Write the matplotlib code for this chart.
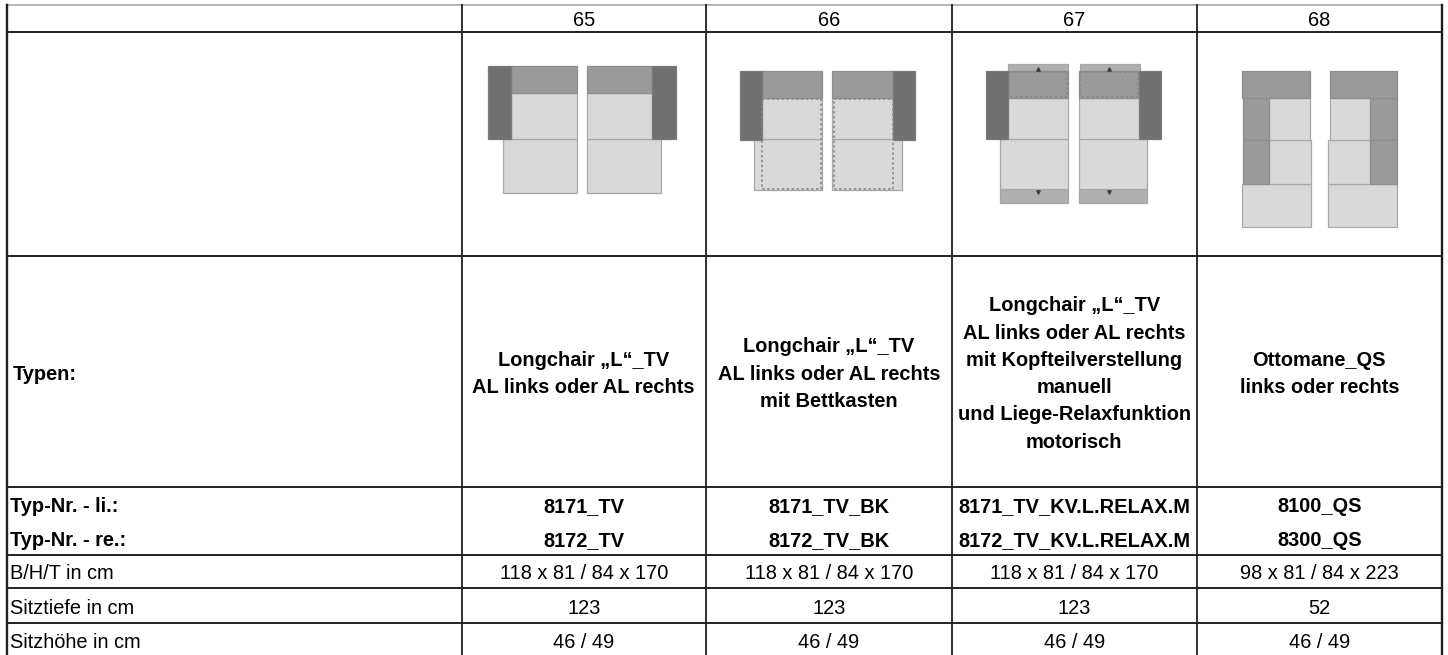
"""
Sofa type table: Longchair / Ottomane variants 65-68
Generates: out.png
"""
import matplotlib
matplotlib.use('Agg')
import matplotlib.pyplot as plt
from matplotlib.patches import Rectangle

plt.rcParams['font.family'] = ['Liberation Sans', 'DejaVu Sans']

# === table content ===
col_numbers = ['65', '66', '67', '68']
row_types = 'Typen:'
type_names = [
    'Longchair „L“_TV\nAL links oder AL rechts',
    'Longchair „L“_TV\nAL links oder AL rechts\nmit Bettkasten',
    'Longchair „L“_TV\nAL links oder AL rechts\nmit Kopfteilverstellung\nmanuell\nund Liege-Relaxfunktion\nmotorisch',
    'Ottomane_QS\nlinks oder rechts',
]
typ_li = ['8171_TV', '8171_TV_BK', '8171_TV_KV.L.RELAX.M', '8100_QS']
typ_re = ['8172_TV', '8172_TV_BK', '8172_TV_KV.L.RELAX.M', '8300_QS']
dims = ['118 x 81 / 84 x 170', '118 x 81 / 84 x 170', '118 x 81 / 84 x 170', '98 x 81 / 84 x 223']
sitztiefe = ['123', '123', '123', '52']
sitzhoehe = ['46 / 49', '46 / 49', '46 / 49', '46 / 49']

# grid in pixels
col_x = [6.5, 461.5, 706, 951.5, 1197, 1441.5]
row_y = [5, 32.3, 255.7, 486.8, 555, 588.3, 623.3, 655]

ARM = '#707070'
BACK = '#9a9a9a'
SEAT = '#d9d9d9'
FLAP = '#b0b0b0'
EDGES = {ARM: '#7a7a7a', BACK: '#8e8e8e', SEAT: '#a8a8a8', FLAP: '#a6a6a6'}

fig = plt.figure(figsize=(14.48, 6.55), dpi=100)
ax = fig.add_axes([0, 0, 1, 1])
ax.set_xlim(0, 1448)
ax.set_ylim(655, 0)
ax.axis('off')


def box(x0, x1, y0, y1, color):
    ax.add_patch(Rectangle((x0, y0), x1 - x0, y1 - y0, fc=color, ec=EDGES[color], lw=0.9, zorder=2))


def dotted(x0, x1, y0, y1):
    ax.add_patch(Rectangle((x0, y0), x1 - x0, y1 - y0, fc='none', ec='#858585',
                           ls=(0, (1.6, 1.6)), lw=1.1, zorder=3))


# === 65 ===
box(502.7, 576.7, 138.7, 192.7, SEAT)
box(511, 576.7, 93.3, 138.7, SEAT)
box(511, 576.7, 66, 93.3, BACK)
box(488.3, 511, 66, 139.3, ARM)
box(586.7, 661, 138.7, 192.7, SEAT)
box(586.7, 652.3, 93.3, 138.7, SEAT)
box(586.7, 652.3, 66, 93.3, BACK)
box(652.3, 675.7, 66, 139.3, ARM)

# === 66 ===
box(754, 822.3, 139.3, 190, SEAT)
box(761.7, 822.3, 98.3, 139.3, SEAT)
box(761.7, 822.3, 71.3, 98.3, BACK)
box(740, 761.7, 71.3, 140, ARM)
dotted(762, 821, 99, 189)
box(832.3, 901.7, 139.3, 190, SEAT)
box(832.3, 893.3, 98.3, 139.3, SEAT)
box(832.3, 893.3, 71.3, 98.3, BACK)
box(893.3, 915.3, 71.3, 140, ARM)
dotted(834, 893, 99, 189)

# === 67 ===
box(1007.7, 1067.7, 64, 71.3, FLAP)
box(1000, 1067.7, 189.3, 203.3, FLAP)
box(1000, 1067.7, 139.3, 189.3, SEAT)
box(1007.7, 1067.7, 97.7, 139.3, SEAT)
box(1007.7, 1067.7, 71.3, 97.7, BACK)
box(986, 1007.7, 71.3, 139.3, ARM)
dotted(1009, 1067, 72, 97)
box(1080, 1140, 64, 71.3, FLAP)
box(1079, 1146.7, 189.3, 203.3, FLAP)
box(1079, 1146.7, 139.3, 189.3, SEAT)
box(1079, 1139, 97.7, 139.3, SEAT)
box(1079, 1139, 71.3, 97.7, BACK)
box(1139, 1160.7, 71.3, 139.3, ARM)
dotted(1080, 1138, 72, 97)
for x in [1037.5, 1109]:
    ax.plot(x, 69, marker='^', ms=2.5, color='#404040', zorder=4)
    ax.plot(x, 192, marker='v', ms=2.5, color='#404040', zorder=4)

# === 68 ===
box(1241.7, 1311, 184.3, 226.7, SEAT)
box(1269, 1311, 140, 184.3, SEAT)
box(1269, 1309.5, 97.7, 140, SEAT)
box(1242.7, 1269, 97.7, 140, BACK)
box(1242.7, 1269, 140, 184.3, BACK)
box(1241.7, 1310, 71.3, 97.7, BACK)
box(1327.7, 1397.3, 184.3, 226.7, SEAT)
box(1327.7, 1370, 140, 184.3, SEAT)
box(1330, 1370, 97.7, 140, SEAT)
box(1370, 1396.7, 97.7, 140, BACK)
box(1370, 1396.7, 140, 184.3, BACK)
box(1330, 1396.7, 71.3, 97.7, BACK)

# === grid lines ===
ax.plot([col_x[0], col_x[-1]], [row_y[0]] * 2, color='#b4b4b4', lw=1.4, zorder=5)
for y in row_y[1:-1]:
    ax.plot([col_x[0], col_x[-1]], [y, y], color='#101010', lw=1.3, zorder=5)
for i, x in enumerate(col_x):
    lw = 1.7 if i in (0, 5) else 1.3
    ax.plot([x, x], [row_y[0], row_y[-1]], color='#202020', lw=lw, zorder=5)

# === text ===
FS = 14.4
centers = [(col_x[i] + col_x[i + 1]) / 2 for i in range(1, 5)]
ty = {'head': 20.5, 'types': 374, 'li': 507, 're': 540.3, 'dims': 573.5, 'tiefe': 608, 'hoehe': 642.5}

ax.text(13, ty['types'], row_types, fontsize=FS, fontweight='bold', va='center')
ax.text(10, ty['li'], 'Typ-Nr. - li.:', fontsize=FS, fontweight='bold', va='center')
ax.text(10, ty['re'], 'Typ-Nr. - re.:', fontsize=FS, fontweight='bold', va='center')
ax.text(10, ty['dims'], 'B/H/T in cm', fontsize=FS, va='center')
ax.text(10, ty['tiefe'], 'Sitztiefe in cm', fontsize=FS, va='center')
ax.text(10, ty['hoehe'], 'Sitzhöhe in cm', fontsize=FS, va='center')

for i, cx in enumerate(centers):
    ax.text(cx, ty['head'], col_numbers[i], fontsize=FS, ha='center', va='center')
    ax.text(cx, ty['types'], type_names[i], fontsize=FS, fontweight='bold', ha='center', va='center',
            linespacing=1.55, multialignment='center')
    ax.text(cx, ty['li'], typ_li[i], fontsize=FS, fontweight='bold', ha='center', va='center')
    ax.text(cx, ty['re'], typ_re[i], fontsize=FS, fontweight='bold', ha='center', va='center')
    ax.text(cx, ty['dims'], dims[i], fontsize=FS, ha='center', va='center')
    ax.text(cx, ty['tiefe'], sitztiefe[i], fontsize=FS, ha='center', va='center')
    ax.text(cx, ty['hoehe'], sitzhoehe[i], fontsize=FS, ha='center', va='center')

fig.savefig('out.png', dpi=100)
plt.close()
